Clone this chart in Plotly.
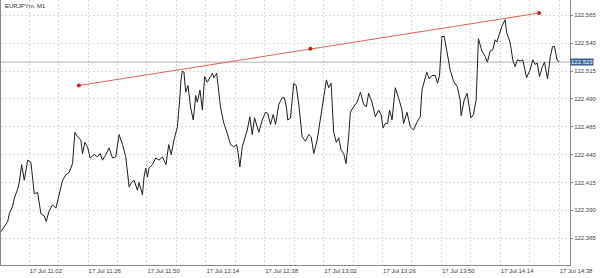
import plotly.graph_objects as go

DAY = "2020-07-17 "

times = [
    "10:50:30", "10:51:50", "10:53:14", "10:53:53", "10:55:16", "10:55:55", "10:57:17", "10:57:56",
    "10:58:55", "11:00:00", "11:01:22", "11:02:42", "11:04:03", "11:05:26", "11:06:46", "11:08:07",
    "11:08:56", "11:10:02", "11:11:32", "11:12:53", "11:14:13", "11:15:36", "11:16:56", "11:18:17",
    "11:19:40", "11:20:37", "11:21:42", "11:23:03", "11:23:44", "11:24:40", "11:25:46", "11:26:50",
    "11:28:28", "11:29:50", "11:30:54", "11:31:52", "11:33:13", "11:34:34", "11:35:56", "11:37:17",
    "11:38:38", "11:40:01", "11:41:21", "11:42:42", "11:43:40", "11:44:44", "11:46:07", "11:46:46",
    "11:48:09", "11:48:48", "11:49:29", "11:50:11", "11:50:50", "11:52:13", "11:53:34", "11:54:54",
    "11:56:17", "11:57:45", "11:58:51", "11:59:52", "12:01:00", "12:02:23", "12:03:19", "12:03:51",
    "12:04:25", "12:05:04", "12:05:46", "12:06:42", "12:07:48", "12:08:53", "12:09:50", "12:10:31",
    "12:11:35", "12:12:34", "12:13:29", "12:14:35", "12:15:56", "12:16:38", "12:17:17", "12:18:23",
    "12:20:00", "12:21:20", "12:22:44", "12:24:04", "12:25:25", "12:26:31", "12:27:07", "12:27:51",
    "12:28:50", "12:29:46", "12:30:52", "12:31:55", "12:32:54", "12:33:50", "12:34:39", "12:35:35",
    "12:36:58", "12:38:19", "12:39:15", "12:40:20", "12:41:26", "12:42:23", "12:43:43", "12:45:06",
    "12:46:02", "12:46:51", "12:47:23", "12:48:29", "12:49:49", "12:50:48", "12:51:52", "12:53:14",
    "12:54:35", "12:55:56", "12:56:54", "12:57:58", "12:59:20", "13:00:41", "13:02:02", "13:03:08",
    "13:04:04", "13:05:02", "13:06:06", "13:07:11", "13:08:08", "13:09:07", "13:10:10", "13:11:08",
    "13:12:12", "13:12:53", "13:14:14", "13:15:37", "13:16:58", "13:18:18", "13:19:24", "13:20:20",
    "13:21:43", "13:23:04", "13:24:25", "13:25:23", "13:26:12", "13:27:08", "13:28:04", "13:28:53",
    "13:29:52", "13:31:12", "13:32:32", "13:33:55", "13:34:34", "13:35:58", "13:37:18", "13:38:38",
    "13:40:02", "13:41:22", "13:42:04", "13:44:01", "13:45:02", "13:46:08", "13:47:28", "13:48:25",
    "13:49:13", "13:50:12", "13:51:08", "13:52:14", "13:53:34", "13:54:55", "13:56:25", "13:57:38",
    "13:58:03", "13:59:16", "14:00:29", "14:02:00", "14:03:03", "14:04:09", "14:04:34", "14:05:05",
    "14:06:28", "14:07:49", "14:08:45", "14:09:51", "14:10:57", "14:11:53", "14:12:34", "14:13:38",
    "14:14:37", "14:15:57", "14:16:38", "14:17:59", "14:19:05", "14:20:01", "14:20:57", "14:22:03",
    "14:23:09", "14:24:42", "14:26:07", "14:27:13", "14:28:09", "14:29:05", "14:29:59", "14:31:00",
    "14:32:01", "14:33:14", "14:34:23", "14:35:17", "14:36:05", "14:37:07", "14:38:00",
]

prices = [
    122.371, 122.375, 122.380, 122.387, 122.394, 122.401, 122.409, 122.415,
    122.431, 122.417, 122.435, 122.433, 122.405, 122.406, 122.387, 122.385,
    122.380, 122.389, 122.395, 122.392, 122.404, 122.417, 122.422, 122.424,
    122.432, 122.460, 122.456, 122.453, 122.441, 122.451, 122.447, 122.437,
    122.440, 122.438, 122.441, 122.435, 122.440, 122.446, 122.437, 122.438,
    122.458, 122.449, 122.438, 122.411, 122.415, 122.417, 122.408, 122.415,
    122.404, 122.420, 122.428, 122.420, 122.428, 122.431, 122.437, 122.435,
    122.438, 122.431, 122.449, 122.440, 122.453, 122.465, 122.489, 122.507,
    122.515, 122.514, 122.496, 122.502, 122.482, 122.471, 122.493, 122.487,
    122.498, 122.480, 122.510, 122.505, 122.510, 122.513, 122.509, 122.513,
    122.482, 122.468, 122.459, 122.449, 122.447, 122.449, 122.442, 122.429,
    122.447, 122.453, 122.462, 122.474, 122.458, 122.473, 122.467, 122.460,
    122.471, 122.478, 122.477, 122.467, 122.476, 122.467, 122.485, 122.491,
    122.491, 122.482, 122.471, 122.473, 122.504, 122.502, 122.485, 122.456,
    122.452, 122.458, 122.456, 122.441, 122.453, 122.473, 122.493, 122.507,
    122.500, 122.504, 122.460, 122.451, 122.455, 122.444, 122.441, 122.432,
    122.456, 122.478, 122.483, 122.487, 122.496, 122.485, 122.483, 122.495,
    122.487, 122.474, 122.480, 122.476, 122.464, 122.468, 122.468, 122.480,
    122.471, 122.500, 122.491, 122.480, 122.468, 122.478, 122.465, 122.462,
    122.469, 122.474, 122.498, 122.514, 122.508, 122.511, 122.511, 122.504,
    122.511, 122.546, 122.546, 122.532, 122.516, 122.506, 122.501, 122.489,
    122.475, 122.489, 122.495, 122.473, 122.476, 122.489, 122.511, 122.544,
    122.533, 122.528, 122.523, 122.533, 122.534, 122.543, 122.541, 122.549,
    122.555, 122.561, 122.549, 122.541, 122.525, 122.519, 122.525, 122.524,
    122.525, 122.509, 122.516, 122.525, 122.521, 122.522, 122.510, 122.518,
    122.523, 122.508, 122.528, 122.537, 122.537, 122.525, 122.523,
]

trend_times = ["11:22:14", "12:56:36", "14:29:48"]
trend_prices = [122.502, 122.535, 122.567]

tick_times = ["11:02", "11:26", "11:50", "12:14", "12:38", "13:02", "13:26", "13:50", "14:14", "14:38"]
tick_labels = ["17 Jul " + t for t in tick_times]
y_ticks = [122.365, 122.390, 122.415, 122.440, 122.465, 122.490, 122.515, 122.540, 122.565]

title_text = "EURJPYm, M1"
x_range = ["10:50:30", "14:42:24"]
y_range = [122.341, 122.5787]

FONT = "Liberation Sans"
GRID = "#dcdcdc"
AXIS = "#8a8a8a"

x = [DAY + t for t in times]
current_price = prices[-1]

fig = go.Figure()

# current price line
fig.add_trace(go.Scatter(
    x=[DAY + x_range[0], DAY + x_range[1]], y=[current_price, current_price],
    mode="lines", line=dict(color="#b4b4b4", width=1), hoverinfo="skip", showlegend=False,
))

fig.add_trace(go.Scatter(
    x=x, y=prices, mode="lines",
    line=dict(color="#1e1e1e", width=1), showlegend=False,
))

fig.add_trace(go.Scatter(
    x=[DAY + t for t in trend_times], y=trend_prices, mode="lines+markers",
    line=dict(color="#e0645a", width=1),
    marker=dict(color="#c8231b", size=4),
    showlegend=False,
))

fig.update_layout(
    width=600, height=278,
    margin=dict(l=1, r=30, t=0, b=13),
    paper_bgcolor="white", plot_bgcolor="white",
    font=dict(family=FONT, size=6, color="#404040"),
    xaxis=dict(
        type="date",
        range=[DAY + x_range[0], DAY + x_range[1]],
        tickvals=[DAY + t for t in tick_times],
        ticktext=tick_labels,
        ticklabelposition="outside right",
        ticks="",
        showgrid=True, gridcolor=GRID, griddash="2px,2px", gridwidth=1,
        minor=dict(showgrid=True, gridcolor=GRID, griddash="2px,2px",
                   dtick=12 * 60 * 1000, tick0=DAY + "10:50", ticks=""),
        showline=True, linecolor=AXIS, linewidth=1,
        zeroline=False,
        tickfont=dict(size=6, color="#404040"),
    ),
    yaxis=dict(
        side="right",
        range=y_range,
        tickvals=y_ticks,
        ticktext=[f"{v:.3f}" for v in y_ticks],
        ticks="outside", ticklen=2, tickcolor=AXIS,
        showgrid=True, gridcolor=GRID, griddash="2px,2px", gridwidth=1,
        showline=True, mirror=True, linecolor=AXIS, linewidth=1,
        zeroline=False,
        tickfont=dict(size=6, color="#404040"),
    ),
    annotations=[
        dict(text=title_text, xref="paper", yref="paper", x=0, y=1,
             xanchor="left", yanchor="top", xshift=2, yshift=-1, showarrow=False,
             font=dict(size=6, color="#303030", family=FONT)),
        dict(text=f"{current_price:.3f}", xref="paper", yref="y", x=1, y=current_price,
             xanchor="left", yanchor="middle", showarrow=False,
             bgcolor="#36618f", borderpad=0,
             font=dict(size=6, color="white", family=FONT)),
    ],
)

fig.write_html("out.html")
